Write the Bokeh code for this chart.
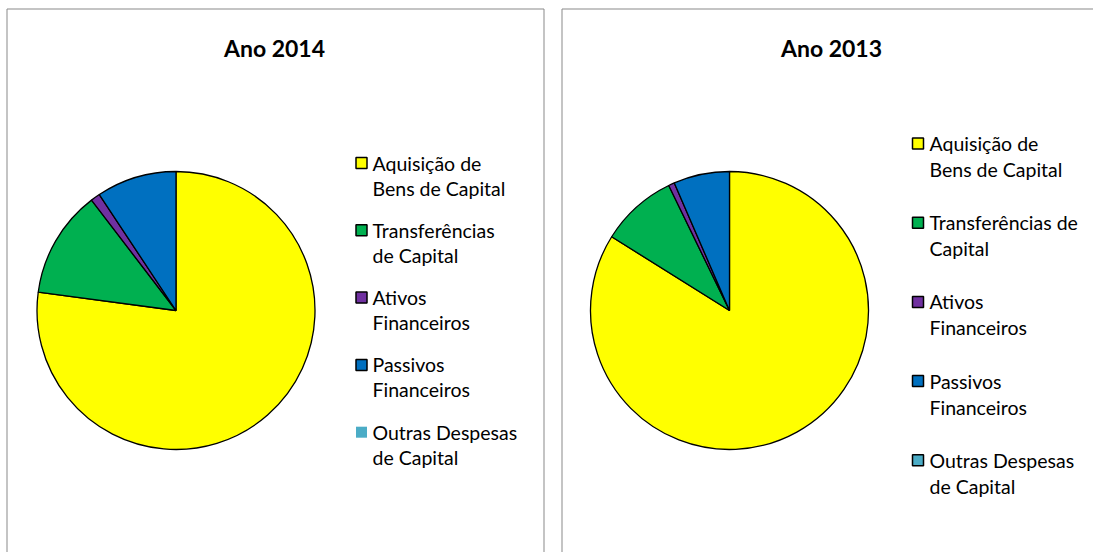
import math
from bokeh.plotting import figure
from bokeh.models import ColumnDataSource, Range1d
from bokeh.core.properties import value
from bokeh.embed import file_html
from bokeh.resources import INLINE

# ---- data ----
categories = ["Aquisição de Bens de Capital", "Transferências de Capital",
              "Ativos Financeiros", "Passivos Financeiros", "Outras Despesas de Capital"]
colors = ["#FFFF00", "#00B050", "#7030A0", "#0070C0", "#4BACC6"]
share_2014 = [77.1, 12.5, 1.1, 9.3, 0.0]
share_2013 = [83.9, 8.9, 0.7, 6.5, 0.0]
titles = ["Ano 2014", "Ano 2013"]
# legend label wrapping as shown in each panel
labels_2014 = [["Aquisição de", "Bens de Capital"], ["Transferências", "de Capital"],
               ["Ativos", "Financeiros"], ["Passivos", "Financeiros"],
               ["Outras Despesas", "de Capital"]]
labels_2013 = [["Aquisição de", "Bens de Capital"], ["Transferências de", "Capital"],
               ["Ativos", "Financeiros"], ["Passivos", "Financeiros"],
               ["Outras Despesas", "de Capital"]]

W, H = 1093, 552
FONT = "Lato"

p = figure(width=W, height=H, x_range=Range1d(0, W), y_range=Range1d(0, H),
           output_backend="svg", toolbar_location=None,
           x_axis_type=None, y_axis_type=None, min_border=0)
p.grid.visible = False
p.outline_line_color = None
p.background_fill_color = "white"


def sy(y):  # screen y -> data y
    return H - y


def sx(x):
    return x


panels = [
    dict(shares=share_2014, labels=labels_2014, title=titles[0],
         box=(6.5, 543.5), cx=175.5, cy=310, tx=274,
         mx=361, lx=372, y0=162.5, step=67.3, gap=25, last_border=False),
    dict(shares=share_2013, labels=labels_2013, title=titles[1],
         box=(561.5, 1110), cx=729, cy=310, tx=831,
         mx=917.5, lx=929, y0=143, step=79.2, gap=26, last_border=True),
]

for pn in panels:
    # panel frame
    p.quad(left=sx(pn["box"][0]), right=sx(pn["box"][1]), top=sy(8.5), bottom=-20,
           fill_color=None, line_color="#898989", line_width=1)
    # title
    p.text(x=[sx(pn["tx"])], y=[sy(47)], text=[pn["title"]],
           text_font=value(FONT), text_font_style="bold", text_font_size="23px",
           text_align="center", text_baseline="middle", text_color="black")
    # pie
    total = sum(pn["shares"])
    starts, ends, cols = [], [], []
    cum = 0.0
    for v, c in zip(pn["shares"], colors):
        a0 = math.pi / 2 - 2 * math.pi * cum / total
        cum += v
        a1 = math.pi / 2 - 2 * math.pi * cum / total
        if v > 0:
            starts.append(a0)
            ends.append(a1)
            cols.append(c)
    src = ColumnDataSource(dict(x=[sx(pn["cx"])] * len(cols), y=[sy(pn["cy"])] * len(cols),
                                s=starts, e=ends, c=cols))
    p.wedge(x="x", y="y", radius=139, start_angle="s", end_angle="e", direction="clock",
            fill_color="c", line_color="black", line_width=1.3, source=src)
    # legend
    for i, (lines, c) in enumerate(zip(pn["labels"], colors)):
        yl = pn["y0"] + i * pn["step"]
        border = "black" if (i < 4 or pn["last_border"]) else None
        p.rect(x=[sx(pn["mx"])], y=[sy(yl)], width=11, height=11,
               fill_color=c, line_color=border, line_width=1.5)
        p.text(x=[sx(pn["lx"])] * 2, y=[sy(yl), sy(yl + pn["gap"])], text=lines,
               text_font=value(FONT), text_font_size="19.5px",
               text_align="left", text_baseline="middle", text_color="black")

open("out.html", "w").write(file_html(p, INLINE))
